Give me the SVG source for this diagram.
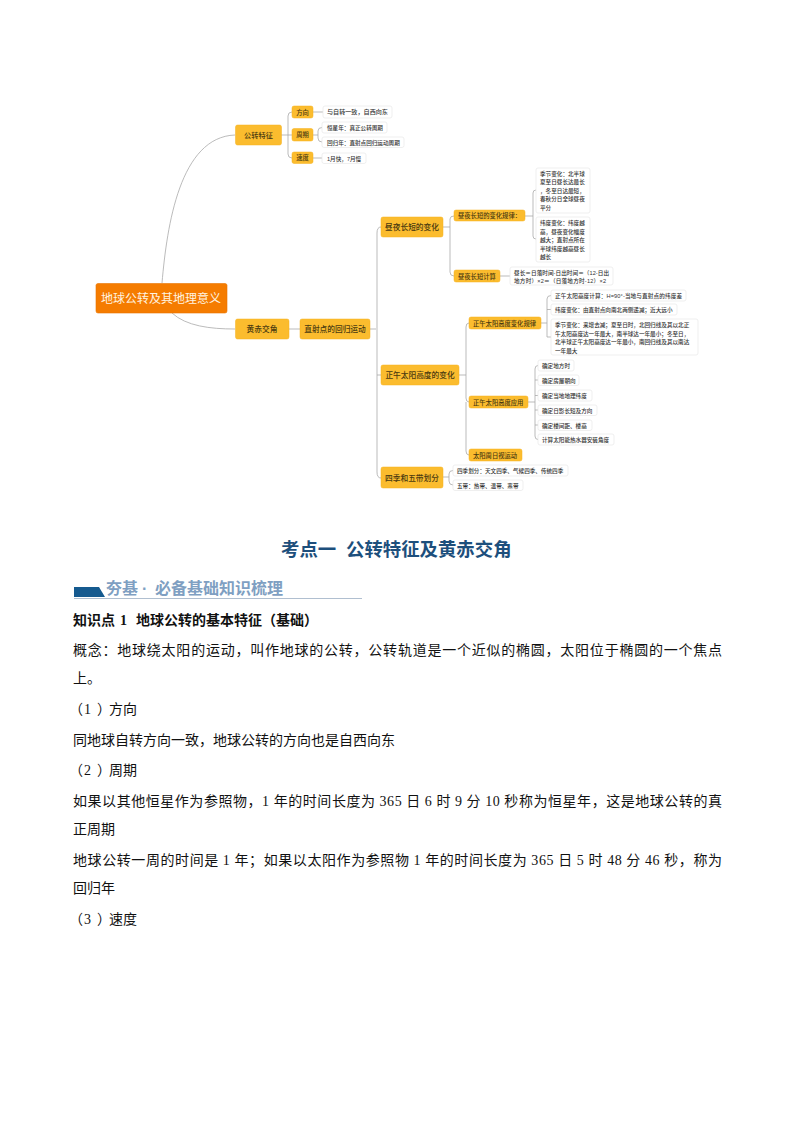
<svg xmlns="http://www.w3.org/2000/svg" width="794" height="1123" viewBox="0 0 794 1123">
<style>
text{font-family:"Liberation Sans","Noto Sans CJK SC",sans-serif}
.o{fill:#fbbc2e;stroke:#f5b01f;stroke-width:.5}
.w{fill:#fff;stroke:#e8e8e8;stroke-width:.7}
.c{fill:none;stroke:#a9a9a9;stroke-width:.8}
.t1{font-size:7.200px;fill:#4a3a10;font-weight:500;text-anchor:middle}
.t2{font-size:7.700px;fill:#4a3a10;font-weight:500;text-anchor:middle}
.t3{font-size:5.600px;fill:#333;font-weight:500}
.t4{font-size:6.300px;fill:#4a3a10;font-weight:500}
.b{font-family:"Liberation Serif","Noto Sans CJK SC",serif;font-size:14px;fill:#111}
</style>
<rect width="794" height="1123" fill="#fff"/>
<g id="connectors" class="c">
<path d="M162 283C167 225 180 137 235 135"/>
<path d="M172 313C186 326 210 329 235 329"/>
<path d="M281 135H292M288 135V116Q288 112 292 112M288 135V154Q288 158 292 158"/>
<path d="M313 112H323M313 135H318M318 135V131Q318 127.500 322 127.500M318 135V138Q318 142 322 142M313 158H322"/>
<path d="M289 329H300M370 329H376M377 233Q377 227 381 227M377 233V472Q377 478 381 478M377 375H381"/>
<path d="M443 227H450M450 227V219Q450 216 454 216M450 227V272Q450 276 454 276"/>
<path d="M525 216H533M533 216V193Q533 190 536 190M533 216V236Q533 239 536 239"/>
<path d="M500 276H510"/>
<path d="M459 375H466M466 375V327Q466 323 469 323M466 375V398Q466 402 469 402M466 402V451Q466 455 469 455"/>
<path d="M541 323H547M547 323V299Q547 295.500 551 295.500M547 323V337H551M547 309.500H551"/>
<path d="M528 402H535M535 402V369Q535 365.500 538 365.500M535 402V436Q535 439.500 538 439.500M535 380H538M535 395.500H538M535 410H538M535 425H538"/>
<path d="M443 477H449M449 477V474Q449 470.500 453 470.500M449 477V481Q449 485 453 485"/>
</g>
<g id="root"><rect x="96" y="283.500" width="131" height="29.500" rx="2" fill="#f57c00" stroke="#e87400" stroke-width=".6"/><text x="161" y="302.500" font-size="12" fill="#fff4e0" text-anchor="middle">地球公转及其地理意义</text></g>
<g id="n1"><rect class="o" x="235.500" y="125" width="46" height="20" rx="2"/><text class="t1" x="258.500" y="138">公转特征</text></g>
<g id="n2"><rect class="o" x="292" y="106" width="21" height="12" rx="2"/><text class="t4" x="302.500" y="114.500" text-anchor="middle">方向</text></g>
<g id="n3"><rect class="o" x="292" y="128.500" width="21" height="12.500" rx="2"/><text class="t4" x="302.500" y="137.200" text-anchor="middle">周期</text></g>
<g id="n4"><rect class="o" x="292" y="152" width="21" height="11.500" rx="2"/><text class="t4" x="302.500" y="160.200" text-anchor="middle">速度</text></g>
<g id="n5"><rect class="w" x="323" y="106" width="69" height="12" rx="2"/><text class="t3" x="327" y="114.200" style="font-size:6.100px">与自转一致，自西向东</text></g>
<g id="n6"><rect class="w" x="322" y="122" width="65" height="11" rx="2"/><text class="t3" x="327" y="130">恒星年：真正公转周期</text></g>
<g id="n7"><rect class="w" x="322" y="137" width="82" height="10.500" rx="2"/><text class="t3" x="327" y="144.500">回归年：直射点回归运动周期</text></g>
<g id="n8"><rect class="w" x="322" y="153" width="44" height="10.500" rx="2"/><text class="t3" x="327" y="160.500">1月快，7月慢</text></g>
<g id="n9"><rect class="o" x="235.500" y="319" width="53.500" height="20" rx="2"/><text class="t2" x="262" y="332">黄赤交角</text></g>
<g id="n10"><rect class="o" x="300" y="319" width="70" height="20" rx="2"/><text class="t2" x="335" y="332">直射点的回归运动</text></g>
<g id="n11"><rect class="o" x="381" y="217" width="62" height="20" rx="2"/><text class="t2" x="412" y="229.800">昼夜长短的变化</text></g>
<g id="n12"><rect class="o" x="454" y="210" width="71" height="11" rx="2"/><text class="t4" x="458" y="217.800">昼夜长短的变化规律：</text></g>
<g id="n13"><rect class="o" x="454" y="270" width="46" height="12" rx="2"/><text class="t4" x="458" y="278.500">昼夜长短计算</text></g>
<g id="n14"><rect class="w" x="536" y="168" width="54" height="45" rx="2"/><text class="t3"><tspan x="540" y="175.500">季节变化：北半球</tspan><tspan x="540" y="184">夏至日昼长达最长</tspan><tspan x="540" y="192.500">，冬至日达最短，</tspan><tspan x="540" y="201">春秋分日全球昼夜</tspan><tspan x="540" y="209.500">平分</tspan></text></g>
<g id="n15"><rect class="w" x="536" y="217" width="54" height="45" rx="2"/><text class="t3"><tspan x="540" y="225">纬度变化：纬度越</tspan><tspan x="540" y="233.500">高，昼夜变化幅度</tspan><tspan x="540" y="242">越大；直射点所在</tspan><tspan x="540" y="250.500">半球纬度越高昼长</tspan><tspan x="540" y="259">越长</tspan></text></g>
<g id="n16"><rect class="w" x="510" y="267" width="103" height="18" rx="2"/><text class="t3"><tspan x="514" y="274.500" textLength="95">昼长＝日落时间-日出时间＝（12-日出</tspan><tspan x="514" y="283" textLength="92">地方时）×2＝（日落地方时-12）×2</tspan></text></g>
<g id="n17"><rect class="o" x="469" y="317" width="72" height="12" rx="2"/><text class="t4" x="473" y="325.500">正午太阳高度变化规律</text></g>
<g id="n18"><rect class="w" x="551" y="290" width="135" height="11" rx="2"/><text class="t3" x="555" y="297.500" textLength="127">正午太阳高度计算：H=90°-当地与直射点的纬度差</text></g>
<g id="n19"><rect class="w" x="551" y="304" width="126" height="11" rx="2"/><text class="t3" x="555" y="312">纬度变化：由直射点向南北两侧递减；近大远小</text></g>
<g id="n20"><rect class="w" x="551" y="319" width="147" height="36" rx="2"/><text class="t3"><tspan x="555" y="327">季节变化：来增去减；夏至日时，北回归线及其以北正</tspan><tspan x="555" y="335.500">午太阳高度达一年最大，南半球达一年最小；冬至日，</tspan><tspan x="555" y="344">北半球正午太阳高度达一年最小，南回归线及其以南达</tspan><tspan x="555" y="352.500">一年最大</tspan></text></g>
<g id="n21"><rect class="o" x="381" y="365" width="78" height="20" rx="2"/><text class="t2" x="420" y="378">正午太阳高度的变化</text></g>
<g id="n22"><rect class="o" x="469" y="396" width="59" height="12" rx="2"/><text class="t4" x="473" y="404.500">正午太阳高度应用</text></g>
<g id="n23"><rect class="w" x="538" y="360" width="36" height="11" rx="2"/><text class="t3" x="542" y="368">确定地方时</text></g>
<g id="n24"><rect class="w" x="538" y="375" width="41" height="10.500" rx="2"/><text class="t3" x="542" y="382.500">确定房屋朝向</text></g>
<g id="n25"><rect class="w" x="538" y="390" width="54" height="11" rx="2"/><text class="t3" x="542" y="397.500">确定当地地理纬度</text></g>
<g id="n26"><rect class="w" x="538" y="405" width="59" height="10.500" rx="2"/><text class="t3" x="542" y="412.500">确定日影长短及方向</text></g>
<g id="n27"><rect class="w" x="538" y="420" width="54" height="10.500" rx="2"/><text class="t3" x="542" y="427.500">确定楼间距、楼高</text></g>
<g id="n28"><rect class="w" x="538" y="434" width="76" height="11" rx="2"/><text class="t3" x="542" y="441.500">计算太阳能热水器安装角度</text></g>
<g id="n29"><rect class="o" x="469" y="449" width="53" height="12" rx="2"/><text class="t4" x="473" y="457.500">太阳周日视运动</text></g>
<g id="n30"><rect class="o" x="381" y="467" width="62" height="21" rx="2"/><text class="t2" x="412" y="480.500">四季和五带划分</text></g>
<g id="n31"><rect class="w" x="453" y="465" width="115" height="11" rx="2"/><text class="t3" x="457" y="472.500">四季划分：天文四季、气候四季、传统四季</text></g>
<g id="n32"><rect class="w" x="453" y="480" width="70" height="10.500" rx="2"/><text class="t3" x="457" y="487.500">五带：热带、温带、寒带</text></g>
<g id="body">
<text y="555.500" font-size="18.400" font-weight="700" fill="#1d4f7c"><tspan x="281">考点一</tspan><tspan x="346">公转特征及黄赤交角</tspan></text>
<polygon points="74,597 74,587 99,587 105,597" fill="#155a8f"/>
<line x1="74" y1="598.500" x2="362" y2="598.500" stroke="#9cafc4" stroke-width=".8"/>
<text y="594" font-size="16" font-weight="700" fill="#7f9fc2"><tspan x="106">夯基</tspan><tspan x="142">·</tspan><tspan x="155">必备基础知识梳理</tspan></text>
<text class="b" y="625" font-weight="700"><tspan x="73">知识点</tspan><tspan x="120">1</tspan><tspan x="136">地球公转的基本特征（基础）</tspan></text>
<text class="b" x="73" y="655" textLength="649" lengthAdjust="spacing">概念：地球绕太阳的运动，叫作地球的公转，公转轨道是一个近似的椭圆，太阳位于椭圆的一个焦点</text>
<text class="b" x="73" y="683">上。</text>
<text class="b" y="714"><tspan x="69">（</tspan><tspan x="84">1</tspan><tspan x="97">）</tspan><tspan x="109">方向</tspan></text>
<text class="b" x="73" y="745">同地球自转方向一致，地球公转的方向也是自西向东</text>
<text class="b" y="775"><tspan x="69">（</tspan><tspan x="84">2</tspan><tspan x="97">）</tspan><tspan x="109">周期</tspan></text>
<text class="b" x="73" y="806" textLength="649" lengthAdjust="spacing">如果以其他恒星作为参照物，1 年的时间长度为 365 日 6 时 9 分 10 秒称为恒星年，这是地球公转的真</text>
<text class="b" x="73" y="834">正周期</text>
<text class="b" x="73" y="865" textLength="649" lengthAdjust="spacing">地球公转一周的时间是 1 年；如果以太阳作为参照物 1 年的时间长度为 365 日 5 时 48 分 46 秒，称为</text>
<text class="b" x="73" y="893">回归年</text>
<text class="b" y="924"><tspan x="69">（</tspan><tspan x="84">3</tspan><tspan x="97">）</tspan><tspan x="109">速度</tspan></text>
</g>
</svg>
